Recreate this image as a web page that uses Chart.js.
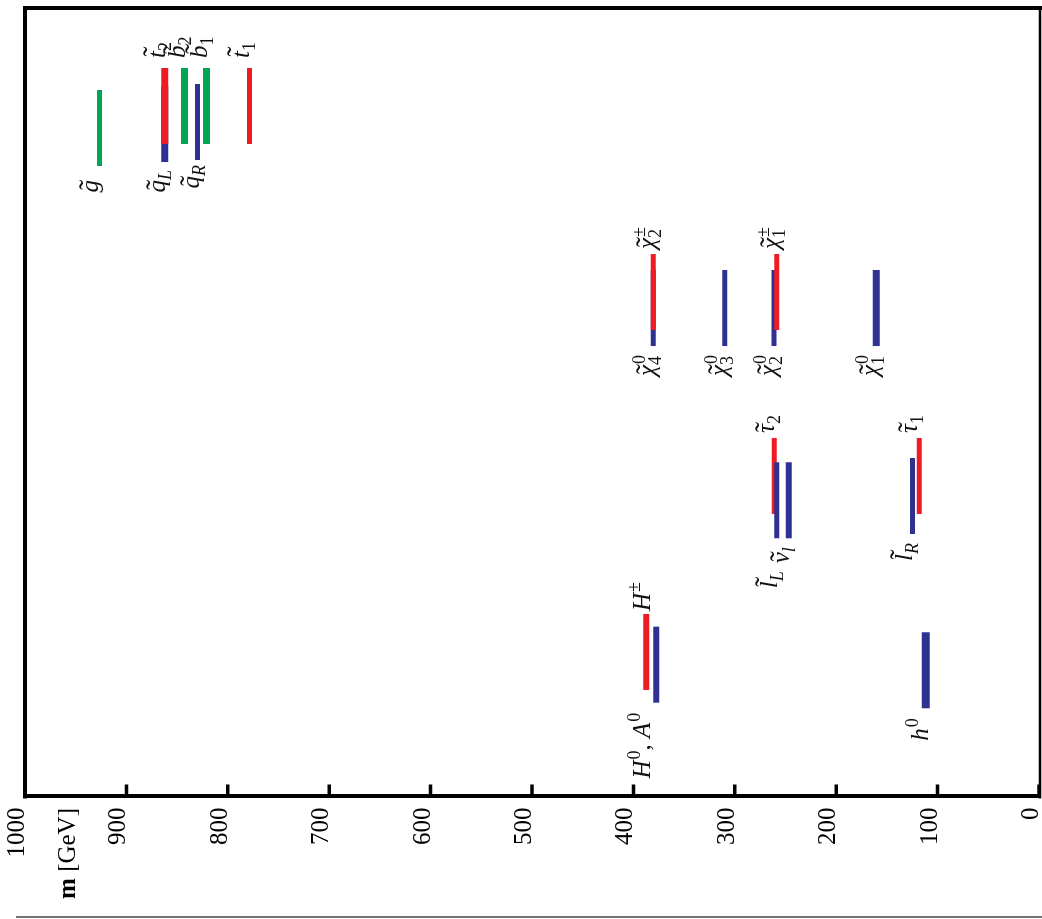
<!DOCTYPE html>
<html>
<head>
<meta charset="utf-8">
<script src="https://cdn.jsdelivr.net/npm/chart.js@4.4.0/dist/chart.umd.min.js"></script>
<style>
  html, body { margin: 0; padding: 0; background: #fff; overflow: hidden; width: 1042px; height: 919px; }
  /* the spectrum is laid out portrait and turned a quarter turn counter-clockwise */
  #wrap { position: absolute; left: 0; top: 0; width: 919px; height: 1042px;
          transform-origin: 0 0; transform: translate(0, 919px) rotate(-90deg); }
  canvas { display: block; }
</style>
</head>
<body>
<div id="wrap"><canvas id="spectrum" width="919" height="1042"></canvas></div>
<script>
// ---- Higgs and sparticle masses (GeV) ----
const particles = ['h0', 'H0A0', 'Hpm', 'lR', 'lL', 'nul', 'tau1', 'tau2',
                   'chi01', 'chi02', 'chi03', 'chi04', 'chipm1', 'chipm2',
                   'gluino', 'qL', 'qR', 'b1', 'b2', 't1', 't2'];
const massGeV   = [111.6, 377.5, 387.4, 124.8, 258.7, 246.7, 118.1, 261.1,
                   160.5, 261.3, 309.9, 380.4, 258.7, 380.4,
                   926.5, 862.2, 829.9, 821.0, 842.7, 778.6, 862.2];
const hue       = ['blue', 'blue', 'red', 'blue', 'blue', 'blue', 'red', 'red',
                   'blue', 'blue', 'blue', 'blue', 'red', 'red',
                   'green', 'blue', 'blue', 'green', 'green', 'red', 'red'];
// label text: ~ puts a tilde on the next letter, ^ and _ give super/subscripts
const labelText = ['h^0', 'H^0, A^0', 'H^±', '~l_R', '~l_L', '~ν_l', '~τ_1', '~τ_2',
                   '~χ^0_1', '~χ^0_2', '~χ^0_3', '~χ^0_4', '~χ^±_1', '~χ^±_2',
                   '~g', '~q_L', '~q_R', '~b_1', '~b_2', '~t_1', '~t_2'];
const massTicks = [0, 100, 200, 300, 400, 500, 600, 700, 800, 900, 1000];
const axisTitle = ['m', ' [GeV]'];

// ---- layout: column slot of each level, stroke width, stacking, label placement ----
const slotStart = [11.19, 11.90, 13.51, 33.29, 32.75, 32.75, 35.83, 35.83,
                   57.13, 57.13, 57.13, 57.13, 59.16, 59.16,
                   79.96, 80.47, 80.72, 82.75, 82.75, 82.75, 82.75];
const slotSpan  = 9.64;
const strokeW   = [8, 6, 6, 5, 5, 6, 5, 5, 7, 5, 5, 5, 5, 5, 5, 7, 5, 7, 7, 5, 7];
const layer     = [0, 0, 0, 0, 1, 0, 0, 0, 0, 0, 0, 0, 1, 1, 0, 0, 0, 0, 0, 0, 1];
const labelSide = ['L', 'L', 'R', 'L', 'L', 'L', 'R', 'R', 'L', 'L', 'L', 'L', 'R', 'R',
                   'L', 'L', 'L', 'R', 'R', 'R', 'R'];
const labelGap  = [10, 10, 3, 9, 33, 9, 5, 5, 9, 9, 9, 9, 5, 5, 14, 8, 5, 10, 10, 10, 10];
const labelDy   = [2, -6, 4, 0, 0, 0, -2, 0, 2, 2, 2, 2, 2, 2, -2, 0, 2, 0, 0, 0, 0];

const palette = { red: '#ed1c24', blue: '#2e3192', green: '#00a651' };
const SERIF = '"Liberation Serif", "DejaVu Serif", serif';
const FS = 25;

const datasets = particles.map((p, i) => ({
  label: p,
  data: [{ x: slotStart[i], y: massGeV[i] }, { x: slotStart[i] + slotSpan, y: massGeV[i] }],
  showLine: true,
  borderColor: palette[hue[i]],
  backgroundColor: palette[hue[i]],
  borderWidth: strokeW[i],
  borderCapStyle: 'butt',
  pointRadius: 0,
  pointHoverRadius: 0,
  order: -layer[i]
}));

// ---- little math-label typesetter ----
function parseLabel(s) {
  const atoms = [];
  let tilde = false;
  for (let k = 0; k < s.length; k++) {
    const c = s[k];
    if (c === '~') { tilde = true; continue; }
    if (c === '^') { atoms[atoms.length - 1].sup = s[++k]; continue; }
    if (c === '_') { atoms[atoms.length - 1].sub = s[++k]; continue; }
    atoms.push({ base: c, tilde, sup: '', sub: '' });
    tilde = false;
  }
  return atoms;
}
const isLetter = c => /[A-Za-z\u0370-\u03ff]/.test(c);
const isTall = c => /[A-Zbdhklt]/.test(c);
const baseFont = c => (isLetter(c) ? 'italic ' : '') + FS + 'px ' + SERIF;
const scriptFont = c => (isLetter(c) ? 'italic ' : '') + Math.round(FS * 0.7) + 'px ' + SERIF;

function atomWidth(ctx, a) {
  ctx.font = baseFont(a.base);
  let w = ctx.measureText(a.base).width;
  let sw = 0;
  if (a.sup) { ctx.font = scriptFont(a.sup); sw = Math.max(sw, ctx.measureText(a.sup).width + 1); }
  if (a.sub) { ctx.font = scriptFont(a.sub); sw = Math.max(sw, ctx.measureText(a.sub).width); }
  return w + sw;
}

function drawLabel(ctx, text, x, y, align) {
  const atoms = parseLabel(text);
  const total = atoms.reduce((s, a) => s + atomWidth(ctx, a), 0);
  let cx = align === 'right' ? x - total : x;
  ctx.textAlign = 'left';
  ctx.textBaseline = 'alphabetic';
  ctx.fillStyle = '#111';
  for (const a of atoms) {
    ctx.font = baseFont(a.base);
    const bw = ctx.measureText(a.base).width;
    ctx.fillText(a.base, cx, y);
    if (a.tilde) {
      ctx.font = '30px ' + SERIF;
      const tw = ctx.measureText('\u02dc').width;
      const tall = isTall(a.base);
      ctx.fillText('\u02dc', cx + bw / 2 - tw / 2 + (tall ? 3 : 1.5), y + (tall ? -2 : 1));
    }
    let sw = 0;
    if (a.sup) {
      ctx.font = scriptFont(a.sup);
      ctx.fillText(a.sup, cx + bw + 1, y - 10);
      sw = Math.max(sw, ctx.measureText(a.sup).width + 1);
    }
    if (a.sub) {
      ctx.font = scriptFont(a.sub);
      ctx.fillText(a.sub, cx + bw, y + 6);
      sw = Math.max(sw, ctx.measureText(a.sub).width);
    }
    cx += bw + sw;
  }
}

// frame, inward tick marks, axis title and the level labels
const decorations = {
  id: 'decorations',
  afterDraw(chart) {
    const { ctx, chartArea: a, scales } = chart;
    const xs = scales.x, ys = scales.y;
    ctx.save();
    ctx.strokeStyle = '#000';
    ctx.lineCap = 'butt';
    // box
    ctx.lineWidth = 4;
    ctx.beginPath();
    ctx.moveTo(a.left - 2, a.top); ctx.lineTo(a.right + 2, a.top);
    ctx.moveTo(a.right, a.top - 2); ctx.lineTo(a.right, a.bottom + 3);
    ctx.stroke();
    ctx.lineWidth = 2.5;
    ctx.beginPath();
    ctx.moveTo(a.left - 2, a.bottom + 1); ctx.lineTo(a.right + 2, a.bottom + 1);
    ctx.stroke();
    // tick marks pointing into the plot
    ctx.lineWidth = 3.5;
    ctx.beginPath();
    massTicks.forEach(v => {
      const py = ys.getPixelForValue(v);
      ctx.moveTo(a.left, py); ctx.lineTo(a.left + 12, py);
    });
    ctx.stroke();
    // axis title
    ctx.fillStyle = '#000';
    ctx.textBaseline = 'alphabetic';
    ctx.textAlign = 'left';
    ctx.font = 'bold ' + FS + 'px ' + SERIF;
    const w0 = ctx.measureText(axisTitle[0]).width;
    ctx.font = FS + 'px ' + SERIF;
    const w1 = ctx.measureText(axisTitle[1]).width;
    const tx = 111 - w0 - w1, ty = ys.getPixelForValue(1000) + 50;
    ctx.font = 'bold ' + FS + 'px ' + SERIF;
    ctx.fillText(axisTitle[0], tx, ty);
    ctx.font = FS + 'px ' + SERIF;
    ctx.fillText(axisTitle[1], tx + w0, ty);
    // page rule
    ctx.strokeStyle = '#444';
    ctx.lineWidth = 1.5;
    ctx.beginPath();
    ctx.moveTo(2, 16); ctx.lineTo(2, chart.height);
    ctx.stroke();
    // level labels
    particles.forEach((p, i) => {
      const y = ys.getPixelForValue(massGeV[i]) + labelDy[i];
      if (labelSide[i] === 'R') {
        const x = xs.getPixelForValue(slotStart[i] + slotSpan) + labelGap[i];
        drawLabel(ctx, labelText[i], x, y, 'left');
      } else {
        const x = xs.getPixelForValue(slotStart[i]) - labelGap[i];
        drawLabel(ctx, labelText[i], x, y, 'right');
      }
    });
    ctx.restore();
  }
};

new Chart(document.getElementById('spectrum'), {
  type: 'scatter',
  data: { datasets },
  options: {
    responsive: false,
    animation: false,
    devicePixelRatio: 1,
    events: [],
    layout: { padding: { left: 0, top: 25, right: 8, bottom: 3 } },
    plugins: { legend: { display: false }, tooltip: { enabled: false } },
    scales: {
      x: { type: 'linear', display: false, min: 0, max: 100 },
      y: {
        type: 'linear', min: 0, max: 1000,
        afterFit(scale) {
          scale.width = 122.5;
          scale.paddingTop = 0;
          scale.paddingBottom = 0;
        },
        afterBuildTicks(scale) { scale.ticks = massTicks.map(v => ({ value: v })); },
        ticks: {
          autoSkip: false, padding: 11, labelOffset: -7.5, color: '#000',
          font: { family: SERIF, size: FS },
          callback: v => String(v)
        },
        grid: { display: false, drawTicks: false },
        border: { display: true, width: 4, color: '#000' }
      }
    }
  },
  plugins: [decorations]
});
</script>
</body>
</html>
